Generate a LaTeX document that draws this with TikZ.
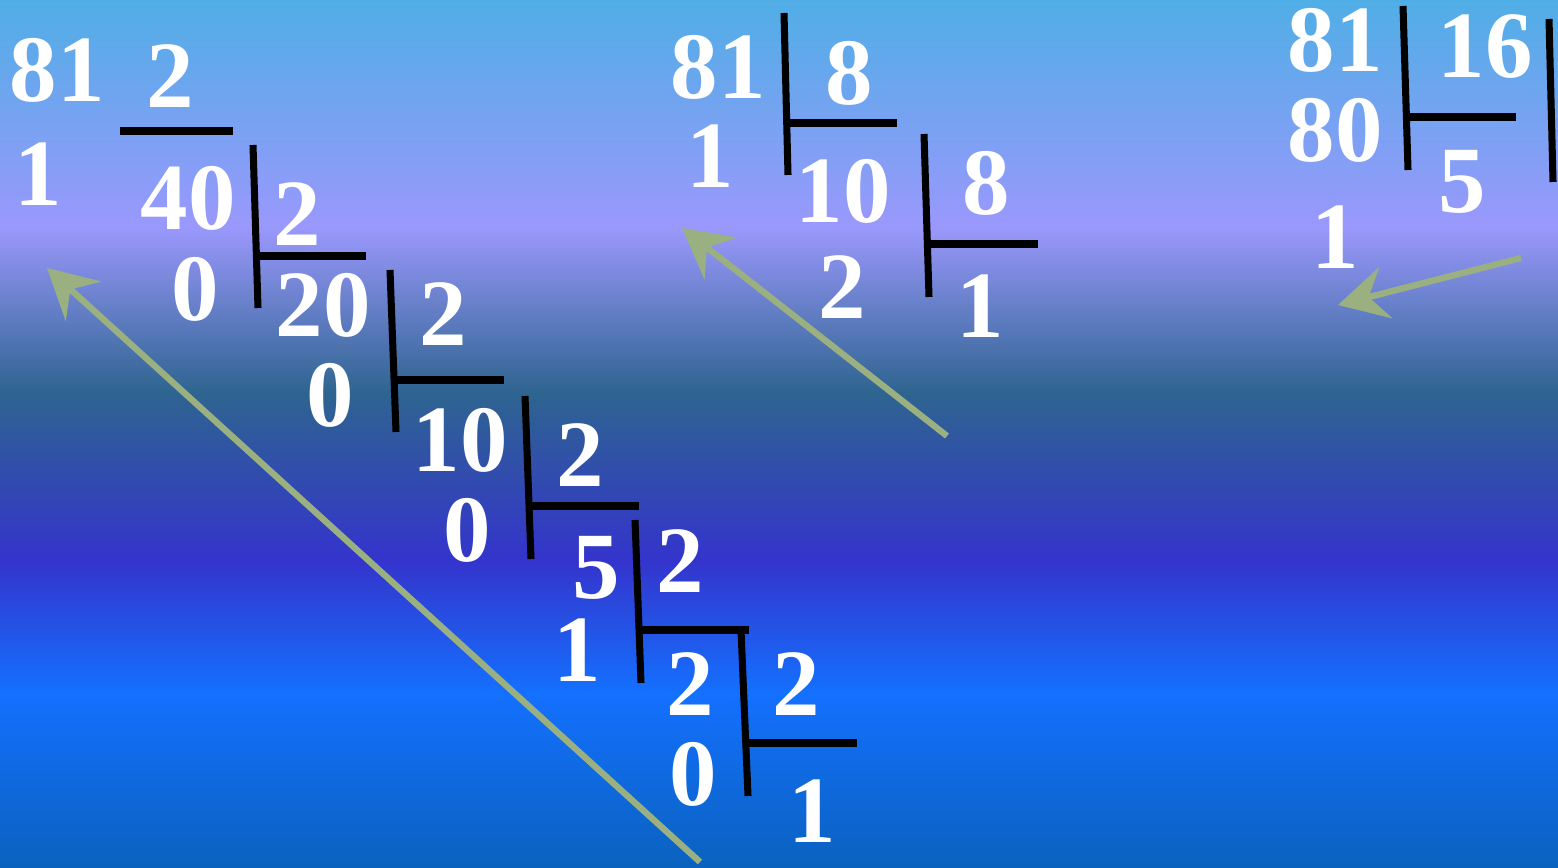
\documentclass[tikz,border=0pt]{standalone}
\usepackage{fontspec}
\setmainfont{Liberation Serif}
\usepackage{tikz}
\usetikzlibrary{arrows.meta, calc}
\definecolor{skytop}{HTML}{50AEE6}
\definecolor{lavender}{HTML}{9A98FC}
\definecolor{tealband}{HTML}{2E6490}
\definecolor{purpleband}{HTML}{3434CC}
\definecolor{brightblue}{HTML}{1470FF}
\definecolor{bottomblue}{HTML}{0A62BE}
\definecolor{arrowgreen}{HTML}{9BB081}
\tikzset{
	digit/.style={font=\fontsize{27}{30}\selectfont\bfseries, text=white, inner sep=0pt}
}
\tikzset{
	bar/.style={line width=2pt, draw=black}
}
\tikzset{
	backarrow/.style={line width=1.8pt, draw=arrowgreen, -{Stealth[length=14pt, width=15pt, inset=5pt]}}
}

\begin{document}
\begin{tikzpicture}[x=0.01cm, y=-0.01cm]
      \useasboundingbox (0,0) rectangle (1558,868);

      % background bands, top to bottom
      \shade[top color=skytop, bottom color=lavender] (0,0) rectangle (1558,227);
      \shade[top color=lavender, bottom color=tealband] (0,227) rectangle (1558,393);
      \shade[top color=tealband, bottom color=purpleband] (0,393) rectangle (1558,560);
      \shade[top color=purpleband, bottom color=brightblue] (0,560) rectangle (1558,693);
      \shade[top color=brightblue, bottom color=bottomblue] (0,693) rectangle (1558,868);

      % base 2: 81 -> 1010001
      \node[digit] (b2n0) at (57,70) {81};
      \node[digit] (b2d0) at (170,76) {2};
      \draw[bar] (120,131) -- (233,131);
      \node[digit] (b2r0) at (38,174) {1};
      \node[digit] (b2n1) at (188,198) {40};
      \draw[bar] (253,145) -- (258,308);
      \draw[bar] (258,256) -- (366,256);
      \node[digit] (b2d1) at (297,214) {2};
      \node[digit] (b2r1) at (195,289) {0};
      \node[digit] (b2n2) at (323,305) {20};
      \draw[bar] (390,270) -- (396,432);
      \draw[bar] (396,380) -- (504,380);
      \node[digit] (b2d2) at (443,314) {2};
      \node[digit] (b2r2) at (330,395) {0};
      \node[digit] (b2n3) at (460,440) {10};
      \draw[bar] (525,396) -- (531,559);
      \draw[bar] (531,506) -- (639,506);
      \node[digit] (b2d3) at (580,455) {2};
      \node[digit] (b2r3) at (467,530) {0};
      \node[digit] (b2n4) at (596,568) {5};
      \draw[bar] (635,520) -- (641,683);
      \draw[bar] (641,630) -- (749,630);
      \node[digit] (b2d4) at (680,561) {2};
      \node[digit] (b2r4) at (577,650) {1};
      \node[digit] (b2n5) at (690,684) {2};
      \draw[bar] (741,630) -- (748,796);
      \draw[bar] (748,743) -- (857,743);
      \node[digit] (b2d5) at (796,684) {2};
      \node[digit] (b2r5) at (693,774) {0};
      \node[digit] (b2q) at (812,811) {1};
      \coordinate (b2from) at (700,862);
      \coordinate (b2to) at (47,268);
      \draw[backarrow] (b2from) -- (b2to);

      % base 8: 81 -> 121
      \node[digit] (b8n0) at (718,67) {81};
      \draw[bar] (784,13) -- (788,175);
      \draw[bar] (788,123) -- (897,123);
      \node[digit] (b8d0) at (849,73) {8};
      \node[digit] (b8r0) at (710,156) {1};
      \node[digit] (b8n1) at (843,191) {10};
      \draw[bar] (924,134) -- (929,297);
      \draw[bar] (929,244) -- (1038,244);
      \node[digit] (b8d1) at (986,183) {8};
      \node[digit] (b8r1) at (842,287) {2};
      \node[digit] (b8q) at (980,306) {1};
      \coordinate (b8from) at (947,436);
      \coordinate (b8to) at (682,228);
      \draw[backarrow] (b8from) -- (b8to);

      % base 16: 81 -> 51
      \node[digit] (b16n0) at (1335,40) {81};
      \draw[bar] (1403,6) -- (1408,170);
      \draw[bar] (1408,117) -- (1516,117);
      \node[digit] (b16d0) at (1485,47) {16};
      \node[digit] (b16m0) at (1335,130) {80};
      \node[digit] (b16q) at (1462,182) {5};
      \draw[bar] (1549,19) -- (1553,182);
      \node[digit] (b16r0) at (1335,237) {1};
      \coordinate (b16from) at (1521,258);
      \coordinate (b16to) at (1338,305);
      \draw[backarrow] (b16from) -- (b16to);
    \end{tikzpicture}
\end{document}
